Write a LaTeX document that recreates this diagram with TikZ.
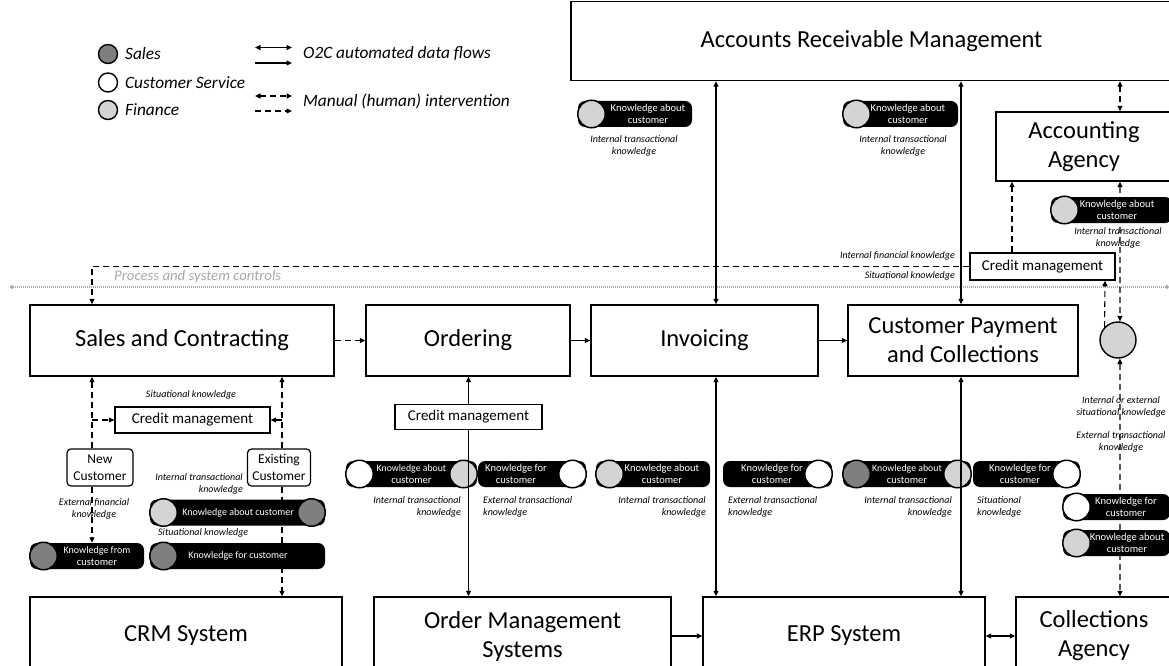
\documentclass[tikz,border=0pt]{standalone}
\usepackage{fontspec}
\setmainfont{Carlito}
\usetikzlibrary{arrows.meta}
\definecolor{salesc}{HTML}{7F7F7F}
\definecolor{finc}{HTML}{D4D4D4}
\definecolor{ctrlc}{HTML}{A8A8A8}
\def\kpnone{none}
\newcommand\kpill[8]{%
  \pgfmathsetmacro\kpw{#3-#2}%
  \pgfmathsetmacro\kpc{(#2+#3)/2}%
  \node[pillbody,minimum width=\kpw pt] (#1) at (\kpc,#4) {};%
  \def\kpa{#5}\ifx\kpa\kpnone\else\node[kcirc,fill=#5] (#1-l) at (#2+13.5,#4) {};\fi
  \def\kpb{#6}\ifx\kpb\kpnone\else\node[kcirc,fill=#6] (#1-r) at (#3-13.5,#4) {};\fi
  \node[pilltext] (#1-t) at (#7,#4) {#8};%
}
\tikzset{
  box/.style={draw,line width=1.4pt,align=center,inner sep=0pt,font=\fontsize{24.5}{29}\selectfont},
  cmbox/.style={draw,line width=1.3pt,inner sep=0pt,font=\fontsize{15}{17}\selectfont},
  smallbox/.style={draw,line width=1.2pt,rounded corners=4pt,align=center,inner sep=0pt,font=\fontsize{13.5}{16.5}\selectfont},
  lbl/.style={font=\itshape\fontsize{10}{12}\selectfont,inner sep=0pt},
  sol/.style={line width=1.1pt,->},
  sol2/.style={line width=1.1pt,<->},
  man/.style={line width=1.1pt,dash pattern=on 6pt off 4pt,->},
  man2/.style={line width=1.1pt,dash pattern=on 6pt off 4pt,<->},
  pillbody/.style={fill=black,rounded corners=7pt,minimum height=26pt,inner sep=0pt},
  kcirc/.style={circle,draw,line width=1.5pt,minimum size=27.5pt,inner sep=0pt},
  pilltext/.style={text=white,font=\fontsize{10.5}{12.5}\selectfont,align=center,inner sep=0pt},
  legc/.style={circle,draw,line width=1.4pt,minimum size=19pt,inner sep=0pt},
  legt/.style={font=\itshape\fontsize{17.3}{20}\selectfont,anchor=west,inner sep=0pt},
  ctrl/.style={draw=ctrlc,line width=1.1pt,dash pattern=on 1pt off 1pt,{Circle[length=4pt,sep=0pt]}-{Circle[length=4pt]}},
}
\newcommand\smtxt{\fontsize{9.8}{12}\selectfont}
\begin{document}
\begin{tikzpicture}[x=1pt,y=-1pt,>={Triangle[length=5.5pt,width=5pt]}]
\useasboundingbox (0,0) rectangle (1169,666);

% ---------- legend
\node[legc,fill=salesc] (lsales) at (108,54) {};
\node[legt] (tsales) at (125,54) {Sales};
\node[legc,fill=white] (lcs) at (108,82.5) {};
\node[legt] (tcs) at (125,82.5) {Customer Service};
\node[legc,fill=finc] (lfin) at (108,110) {};
\node[legt] (tfin) at (125,110) {Finance};
\coordinate (la1) at (255,47.5); \coordinate (la2) at (292,47.5);
\coordinate (lb1) at (255,63); \coordinate (lb2) at (292,63);
\coordinate (lc1) at (255,96); \coordinate (lc2) at (292,96);
\coordinate (ld1) at (255,111); \coordinate (ld2) at (292,111);
\draw[sol2] (la1) -- (la2);
\draw[sol] (lb1) -- (lb2);
\draw[man2] (lc1) -- (lc2);
\draw[man] (ld1) -- (ld2);
\node[legt] (to2c) at (303,54) {O2C automated data flows};
\node[legt] (tman) at (303,101) {Manual (human) intervention};

% ---------- boxes
\node[box,minimum width=601pt,minimum height=79pt] (arm) at (871.5,41) {Accounts Receivable Management};
\node[box,minimum width=176pt,minimum height=69pt] (aa) at (1084,146.5) {Accounting\\Agency};
\node[box,minimum width=304pt,minimum height=71pt] (sales) at (182,340.5) {Sales and Contracting};
\node[box,minimum width=204pt,minimum height=71pt] (ord) at (468,340.5) {Ordering};
\node[box,minimum width=227pt,minimum height=71pt] (inv) at (704.5,340.5) {Invoicing};
\node[box,minimum width=230pt,minimum height=71pt] (cp) at (963,340.5) {Customer Payment\\and Collections};
\node[circle,draw,line width=1.4pt,fill=finc,minimum size=36pt,inner sep=0pt] (fc) at (1118,340) {};
\node[box,minimum width=312pt,minimum height=78pt] (crm) at (186,636) {CRM System};
\node[box,minimum width=297pt,minimum height=78pt] (oms) at (522.5,636) {Order Management\\Systems};
\node[box,minimum width=282pt,minimum height=78pt] (erp) at (844,636) {ERP System};
\node[box,minimum width=156pt,minimum height=78pt] (coll) at (1094,636) {Collections\\Agency};

\node[cmbox,minimum width=155pt,minimum height=26pt] (cmL) at (192.5,420) {Credit management};
\node[cmbox,minimum width=147pt,minimum height=25pt] (cmO) at (468.5,417) {Credit management};
\node[cmbox,minimum width=145pt,minimum height=27pt] (cmR) at (1042.5,266.5) {Credit management};
\node[smallbox,minimum width=66pt,minimum height=37pt] (nc) at (100,467.5) {New\\Customer};
\node[smallbox,minimum width=63pt,minimum height=37pt] (ec) at (279,467.5) {Existing\\Customer};

% ---------- controls line
\coordinate (cl) at (10,287);
\coordinate (cr) at (1169,287);
\draw[ctrl] (cl) -- (cr);
\node[font=\itshape\fontsize{14.8}{17}\selectfont,text=ctrlc,anchor=west,inner sep=0pt] (ctrltxt) at (114,277) {Process and system controls};

% ---------- helper x / y positions
\coordinate (x92) at (92,0);
\coordinate (x282) at (282,0);
\coordinate (x716) at (716,0);
\coordinate (x961) at (961,0);
\coordinate (x1012) at (1012,0);
\coordinate (x1105) at (1105,0);
\coordinate (x1120) at (1120,0);
\coordinate (y420) at (0,420);

% ---------- dashed (manual) connectors drawn below pills
\draw[man] (cmR.west) -- (x92 |- cmR.west) -- (sales.north -| x92);
\draw[man] (cmR.north -| x1012) -- (aa.south -| x1012);
\draw[man2] (arm.south -| x1120) -- (aa.north -| x1120);
\draw[man2] (aa.south -| x1120) -- (fc.84);
\draw[man] (fc.136) -- (cmR.south -| x1105);
\draw[man2] (fc.-84) -- (coll.north -| x1120);
\draw[man] (nc.north -| x92) -- (sales.south -| x92);
\draw[man] (x92 |- y420) -- (cmL.west);
\draw[man] (ec.north -| x282) -- (sales.south -| x282);
\draw[man] (x282 |- y420) -- (cmL.east);
\draw[man] (ec.south -| x282) -- (crm.north -| x282);

% ---------- knowledge pills
\kpill{tp1}{578}{692}{114}{finc}{none}{648}{Knowledge about\\customer}
\kpill{tp2}{843}{958}{114}{finc}{none}{908}{Knowledge about\\customer}
\kpill{tpr}{1051}{1172}{210}{finc}{none}{1117}{Knowledge about\\customer}
\kpill{op1}{346}{477}{474}{white}{finc}{411.5}{\smtxt Knowledge about\\customer}
\kpill{op2}{478}{586}{474}{none}{white}{516}{Knowledge for\\customer}
\kpill{ip1}{596}{710}{474}{finc}{none}{662}{Knowledge about\\customer}
\kpill{ip2}{723}{832}{474}{none}{white}{772}{Knowledge for\\customer}
\kpill{cp1}{843}{971}{474}{salesc}{finc}{907}{\smtxt Knowledge about\\customer}
\kpill{cp2}{973}{1080}{474}{none}{white}{1020}{Knowledge for\\customer}
\kpill{rp1}{1063}{1170}{507}{white}{none}{1126}{Knowledge for\\customer}
\kpill{rp2}{1063}{1170}{543}{finc}{none}{1127}{Knowledge about\\customer}
\kpill{lp1}{150}{325}{512.5}{finc}{salesc}{238}{\fontsize{10}{12}\selectfont Knowledge about customer}
\kpill{lp2}{150}{325}{556}{salesc}{none}{238}{\fontsize{10}{12}\selectfont Knowledge for customer}
\kpill{lp3}{30}{144}{556}{salesc}{none}{97}{\fontsize{10}{12}\selectfont Knowledge from\\customer}

\draw[man] (nc.south -| x92) -- (lp3.north -| x92);

% ---------- solid connectors
\draw[sol2] (arm.south -| x716) -- (inv.north -| x716);
\draw[sol2] (inv.south -| x716) -- (erp.north -| x716);
\draw[sol2] (arm.south -| x961) -- (cp.north -| x961);
\draw[sol2] (cp.south -| x961) -- (erp.north -| x961);
\draw[sol] (cmO.north) -- (ord.south -| cmO.north);
\draw[sol] (cmO.south) -- (oms.north -| cmO.south);
\draw[man] (sales.east) -- (ord.west);
\draw[sol] (ord.east) -- (inv.west);
\draw[sol] (inv.east) -- (cp.west);
\draw[sol,line width=1.9pt] (oms.east) -- (erp.west);
\draw[sol2] (erp.east) -- (coll.west);

% ---------- labels
\node[lbl,align=center] (k1) at (634,146) {Internal transactional\\knowledge};
\node[lbl,align=center] (k2) at (903,146) {Internal transactional\\knowledge};
\node[lbl,align=center] (k3) at (1118,238) {Internal transactional\\knowledge};
\node[lbl,anchor=east] (k4) at (955,256) {Internal financial knowledge};
\node[lbl,anchor=east] (k5) at (955,276) {Situational knowledge};
\node[lbl,align=center] (k6) at (1121,407) {Internal or external\\situational knowledge};
\node[lbl,align=center] (k7) at (1121,442) {External transactional\\knowledge};
\node[lbl,align=right,anchor=east] (k8) at (461,507) {Internal transactional\\knowledge};
\node[lbl,align=left,anchor=west] (k9) at (483,507) {External transactional\\knowledge};
\node[lbl,align=right,anchor=east] (k10) at (706,507) {Internal transactional\\knowledge};
\node[lbl,align=left,anchor=west] (k11) at (728,507) {External transactional\\knowledge};
\node[lbl,align=right,anchor=east] (k12) at (952,507) {Internal transactional\\knowledge};
\node[lbl,align=left,anchor=west] (k13) at (977,507) {Situational\\knowledge};
\node[lbl,align=center] (k14) at (191,395) {Situational knowledge};
\node[lbl,align=right,anchor=east] (k15) at (243,483.5) {Internal transactional\\knowledge};
\node[lbl,anchor=west] (k16) at (158,533) {Situational knowledge};
\node[lbl,align=center] (k17) at (94,509) {External financial\\knowledge};
\end{tikzpicture}
\end{document}
